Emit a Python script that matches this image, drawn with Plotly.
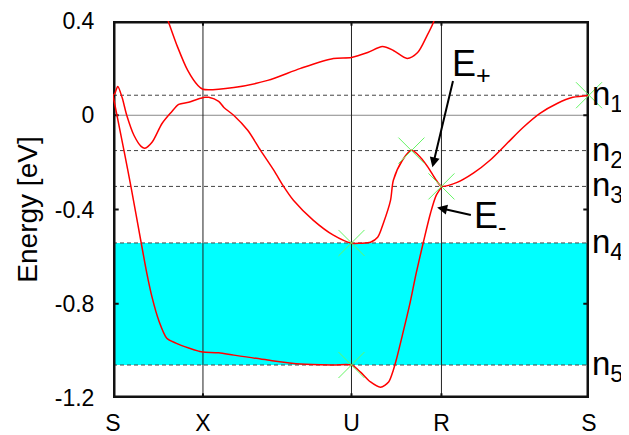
import plotly.graph_objects as go

# k-path position (fraction of full path) and energy in eV
K_RANGE = [0.0, 1.0]
E_RANGE = [-1.2, 0.4]

K_TICKS = [0.0, 0.189, 0.501, 0.690, 1.0]
K_LABELS = ["S", "X", "U", "R", "S"]

Y_TICKS = [0.4, 0.0, -0.4, -0.8, -1.2]
Y_LABELS = ["0.4", "0", "-0.4", "-0.8", "-1.2"]

LEVELS = [0.085, -0.150, -0.302, -0.542, -1.060]
LEVEL_NAMES = ["n<sub>1</sub>", "n<sub>2</sub>", "n<sub>3</sub>", "n<sub>4</sub>", "n<sub>5</sub>"]

band_top_k = [0.107, 0.117, 0.136, 0.157, 0.178, 0.189, 0.254, 0.325, 0.394, 0.463,
              0.501, 0.535, 0.566, 0.589, 0.618, 0.640, 0.660, 0.673, 0.681]
band_top_e = [0.453, 0.394, 0.288, 0.190, 0.127, 0.110, 0.118, 0.148, 0.199, 0.241,
              0.245, 0.266, 0.292, 0.275, 0.241, 0.266, 0.339, 0.394, 0.445]

band_mid_k = [0.0, 0.004, 0.010, 0.019, 0.029, 0.044, 0.059, 0.067, 0.082, 0.103,
              0.122, 0.138, 0.159, 0.176, 0.193, 0.201, 0.222, 0.233, 0.254, 0.283,
              0.310, 0.338, 0.358, 0.379, 0.421, 0.463, 0.501, 0.520, 0.541, 0.556,
              0.568, 0.583, 0.589, 0.608, 0.627, 0.646, 0.662, 0.679, 0.690, 0.723,
              0.757, 0.792, 0.828, 0.862, 0.897, 0.933, 0.966, 1.0]
band_mid_e = [0.084, 0.093, 0.122, 0.076, -0.001, -0.085, -0.132, -0.140, -0.115, -0.035,
              0.012, 0.046, 0.055, 0.067, 0.076, 0.076, 0.059, 0.033, -0.001, -0.064,
              -0.149, -0.234, -0.301, -0.361, -0.446, -0.509, -0.543, -0.543, -0.539, -0.518,
              -0.458, -0.361, -0.276, -0.191, -0.149, -0.179, -0.221, -0.276, -0.301, -0.285,
              -0.246, -0.191, -0.119, -0.051, 0.008, 0.050, 0.076, 0.084]

band_low_k = [0.0, 0.023, 0.038, 0.059, 0.071, 0.082, 0.096, 0.113, 0.132, 0.159,
              0.180, 0.189, 0.222, 0.254, 0.325, 0.394, 0.463, 0.501, 0.520, 0.541,
              0.562, 0.579, 0.589, 0.595, 0.608, 0.623, 0.637, 0.652, 0.667, 0.679, 0.690]
band_low_e = [0.084, -0.149, -0.306, -0.539, -0.670, -0.772, -0.870, -0.946, -0.967, -0.988,
              -1.001, -1.005, -1.008, -1.018, -1.039, -1.056, -1.060, -1.060, -1.090, -1.132,
              -1.154, -1.132, -1.081, -1.039, -0.933, -0.806, -0.670, -0.539, -0.416, -0.340, -0.306]

cross_k = [1.0, 0.627, 0.690, 0.501, 0.501]
cross_e = [0.085, -0.150, -0.302, -0.542, -1.060]

FONT = "Liberation Sans, Arial, sans-serif"

fig = go.Figure()

for k, e in [(band_top_k, band_top_e), (band_mid_k, band_mid_e), (band_low_k, band_low_e)]:
    fig.add_trace(go.Scatter(x=k, y=e, mode="lines",
                             line=dict(color="#ff0000", width=1.5, shape="spline", smoothing=0.8),
                             hoverinfo="skip"))

fig.add_trace(go.Scatter(x=cross_k, y=cross_e, mode="markers",
                         marker=dict(symbol="x-thin", size=26,
                                     line=dict(color="#66f566", width=1)),
                         cliponaxis=False, hoverinfo="skip"))

# shaded band between n4 and n5
fig.add_shape(type="rect", xref="x", yref="y", x0=0, x1=1, y0=LEVELS[4], y1=LEVELS[3],
              fillcolor="#00ffff", line_width=0, layer="below")
for lv in LEVELS:
    fig.add_shape(type="line", xref="x", yref="y", x0=0, x1=1, y0=lv, y1=lv,
                  line=dict(color="#444444", width=1, dash="4px,3px"), layer="below")
fig.add_shape(type="line", xref="x", yref="y", x0=0, x1=1, y0=0, y1=0,
              line=dict(color="#888888", width=1), layer="below")
for kv in K_TICKS[1:-1]:
    fig.add_shape(type="line", xref="x", yref="y", x0=kv, x1=kv, y0=-1.2, y1=0.4,
                  line=dict(color="#222222", width=1), layer="below")

# heavy frame: four edge lines drawn the same way as the visible guide lines
for kv in K_RANGE:
    fig.add_shape(type="line", xref="x", yref="y", x0=kv, x1=kv, y0=E_RANGE[0], y1=E_RANGE[1],
                  line=dict(color="#111111", width=5), layer="below")
for ev in E_RANGE:
    fig.add_shape(type="line", xref="x", yref="y", x0=K_RANGE[0], x1=K_RANGE[1], y0=ev, y1=ev,
                  line=dict(color="#111111", width=5), layer="below")

# inward tick marks on the left and right edges
for ev in Y_TICKS[1:-1]:
    for kv, dk in [(K_RANGE[0], 0.012), (K_RANGE[1], -0.012)]:
        fig.add_shape(type="line", xref="x", yref="y", x0=kv, x1=kv + dk, y0=ev, y1=ev,
                      line=dict(color="#111111", width=2), layer="below")
# and on the top and bottom edges at the symmetry points
for kv in K_TICKS[1:-1]:
    for ev, de in [(E_RANGE[0], 0.02), (E_RANGE[1], -0.02)]:
        fig.add_shape(type="line", xref="x", yref="y", x0=kv, x1=kv, y0=ev, y1=ev + de,
                      line=dict(color="#111111", width=2), layer="below")

for lv, name in zip(LEVELS, LEVEL_NAMES):
    fig.add_annotation(x=1.0, y=lv, text=name, showarrow=False, xanchor="left",
                       yanchor="middle", xshift=1, yshift=-1,
                       font=dict(family=FONT, size=33, color="black"))

fig.add_annotation(x=0.707, y=0.21, text="E<sub>+</sub>", showarrow=False,
                   xanchor="left", yanchor="middle", font=dict(family=FONT, size=36, color="black"))
fig.add_annotation(x=0.755, y=-0.437, text="E<sub>-</sub>", showarrow=False,
                   xanchor="left", yanchor="middle", font=dict(family=FONT, size=36, color="black"))
fig.add_annotation(x=0.671, y=-0.221, ax=0.715, ay=0.152, axref="x", ayref="y", text="",
                   showarrow=True, arrowhead=2, arrowsize=1, arrowwidth=2, arrowcolor="black")
fig.add_annotation(x=0.681, y=-0.391, ax=0.755, ay=-0.425, axref="x", ayref="y", text="",
                   showarrow=True, arrowhead=2, arrowsize=1, arrowwidth=2, arrowcolor="black")

# page body adds an 8px margin, so the figure is 8px smaller than the window
fig.update_layout(
    width=621, height=427,
    margin=dict(l=105, r=40, t=13, b=37, autoexpand=False),
    plot_bgcolor="white", paper_bgcolor="white",
    showlegend=False,
    font=dict(family=FONT, size=23, color="black"),
    xaxis=dict(range=K_RANGE, tickvals=K_TICKS, ticktext=K_LABELS, showgrid=False,
               zeroline=False, showline=False, ticks="outside", ticklen=4,
               tickcolor="rgba(0,0,0,0)"),
    yaxis=dict(range=E_RANGE, tickvals=Y_TICKS, ticktext=Y_LABELS, showgrid=False,
               zeroline=False, showline=False, ticks="outside", ticklen=13,
               tickcolor="rgba(0,0,0,0)",
               title=dict(text="Energy [eV]", standoff=8)),
)

fig.write_html("out.html")
